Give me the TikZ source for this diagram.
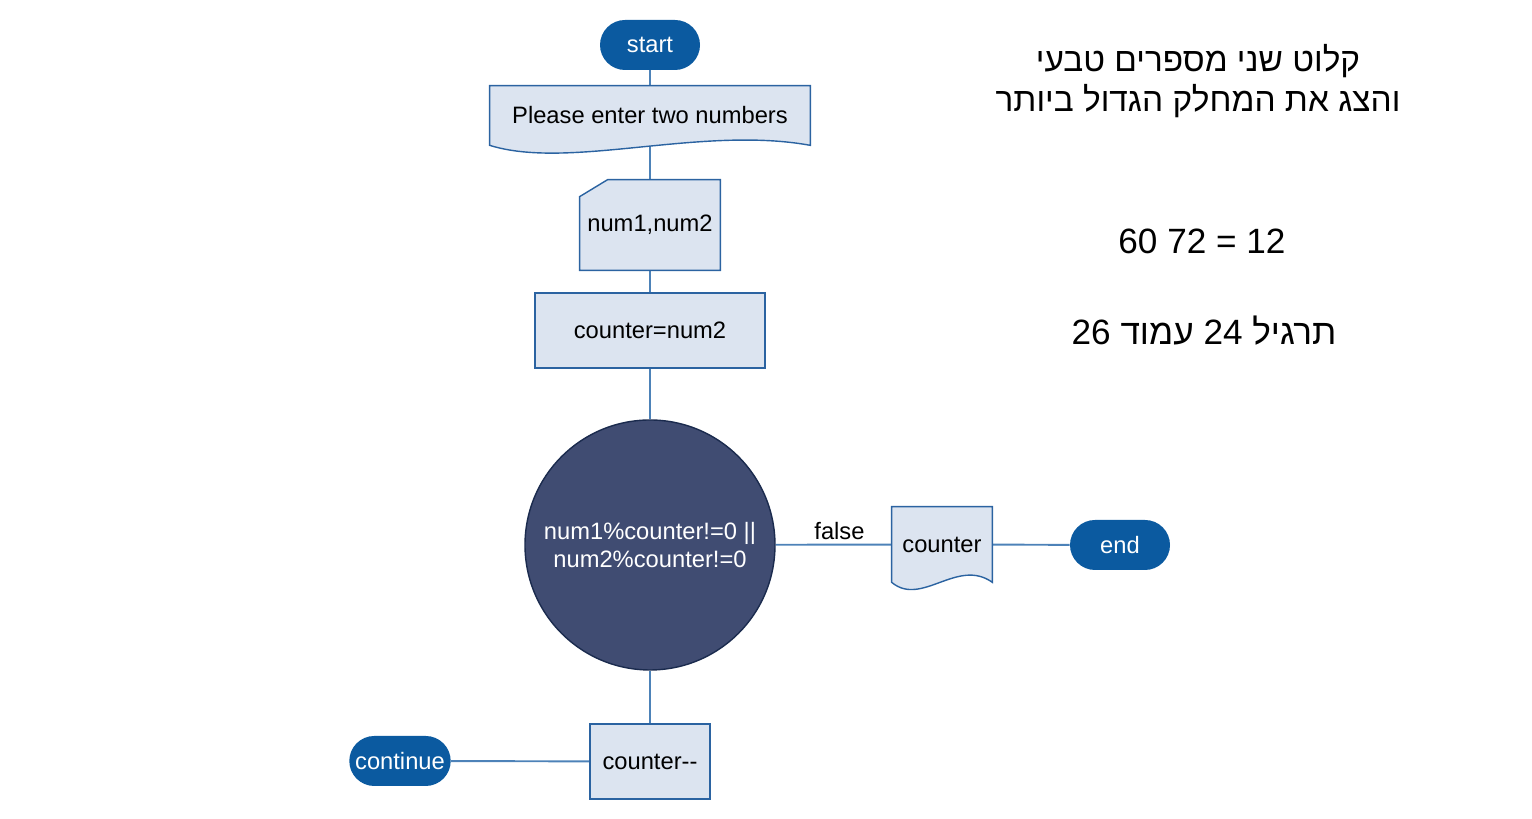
\documentclass[tikz,border=0pt]{standalone}
\usepackage{fontspec}
\setmainfont{Liberation Sans}
\newfontfamily\hebfont[Script=Hebrew]{Liberation Sans}
\TeXXeTstate=1
\usetikzlibrary{backgrounds,calc}

\definecolor{termblue}{HTML}{0B5AA0}
\definecolor{boxfill}{HTML}{DCE4F0}
\definecolor{boxline}{HTML}{2B63A1}
\definecolor{flowline}{HTML}{4D82B8}
\definecolor{condfill}{HTML}{404C72}
\definecolor{condline}{HTML}{1B2B4E}

\tikzset{
  lbl/.style={font=\fontsize{13.5}{16}\selectfont},
  term/.style={lbl, rectangle, rounded corners=0.5cm, fill=termblue, text=white, minimum width=2cm, minimum height=1cm},
  procbox/.style={lbl, rectangle, draw=boxline, fill=boxfill, line width=0.8pt},
  docbox/.style={lbl, rectangle, inner sep=0pt},
  docshape/.style={draw=boxline, fill=boxfill, line width=0.8pt},
  cond/.style={lbl, circle, draw=condline, fill=condfill, text=white, minimum size=5cm, align=center, inner sep=0pt, line width=0.8pt},
  flow/.style={draw=flowline, line width=1.1pt},
  heb/.style={font=\hebfont\fontsize{20}{23}\selectfont, align=center}
}

\begin{document}
\begin{tikzpicture}
\useasboundingbox (0,0) rectangle (30.64,16.38);

            % flow chart
            \node[term] (start) at (13,15.48) {start};
            \node[docbox, minimum width=6.4cm, minimum height=1.18cm] (ask) at (13,14.07) {Please enter two numbers};
            \node[docbox, minimum width=2.8cm, minimum height=1.8cm] (readin) at (13,11.88) {num1,num2};
            \node[procbox, minimum width=4.6cm, minimum height=1.5cm] (init) at (13,9.77) {counter=num2};
            \node[cond] (test) at (13,5.48) {num1\%counter!=0 ||\\ num2\%counter!=0};
            \node[procbox, minimum width=2.4cm, minimum height=1.5cm] (dec) at (13,1.15) {counter-{}-};
            \node[term] (cont) at (8,1.16) {continue};
            \node[docbox, minimum width=2cm, minimum height=1.5cm] (show) at (18.84,5.49) {counter};
            \node[term] (stop) at (22.4,5.48) {end};

            % task text
            \node[heb, font=\hebfont\fontsize{19}{22.5}\selectfont] (title) at (23.96,14.76) {\beginR קלוט שני מספרים טבעי\endR\\\beginR והצג את המחלק הגדול ביותר\endR};
            \node[font=\fontsize{20}{23}\selectfont] (sample) at (24.04,11.56) {60 72 = 12};
            \node[heb] (page) at (24.08,9.76) {\beginR תרגיל \beginL 24\endL{} עמוד \beginL 26\endL\endR};

            \begin{scope}[on background layer]
             %lines
                 \draw[flow] (start) -- (ask);
                 \draw[flow] (ask) -- (readin);
                 \draw[flow] (readin) -- (init);
                 \draw[flow] (init) -- (test);
                 \draw[flow] (test) -- (dec);
                 \draw[flow] (dec) -- (cont);
                 \draw[flow] (test) -- node[lbl, above, inner sep=2pt, pos=0.55] (no) {false} (show);
                 \draw[flow] (show) -- (stop);
             %shapes behind the texts
                 \filldraw[docshape] (ask.south east) -- (ask.north east) -- (ask.north west) -- (ask.south west)
                     .. controls ($(ask.south west)+(1.6,-0.5)$) and ($(ask.south east)+(-2.2,0.4)$) .. (ask.south east) -- cycle;
                 \filldraw[docshape] ($(readin.north west)+(0,-0.34)$) -- ($(readin.north west)+(0.56,0)$)
                     -- (readin.north east) -- (readin.south east) -- (readin.south west) -- cycle;
                 \filldraw[docshape] (show.south east) -- (show.north east) -- (show.north west) -- (show.south west)
                     .. controls ($(show.south west)+(0.6,-0.5)$) and ($(show.south east)+(-0.7,0.5)$) .. (show.south east) -- cycle;
            \end{scope}
\end{tikzpicture}
\end{document}
